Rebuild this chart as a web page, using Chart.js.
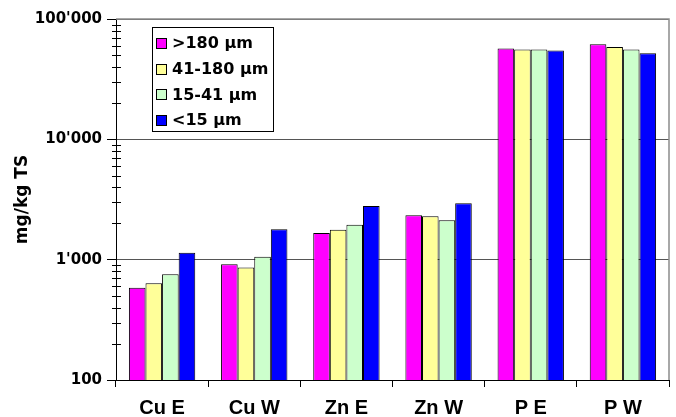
<!DOCTYPE html>
<html>
<head>
<meta charset="utf-8">
<script src="https://cdn.jsdelivr.net/npm/chart.js@4.4.1/dist/chart.umd.min.js"></script>
<style>
html,body{margin:0;padding:0;background:#fff;}
#wrap{width:676px;height:417px;}
</style>
</head>
<body>
<div id="wrap"><canvas id="c" width="676" height="417"></canvas></div>
<script>
const categories = ["Cu E", "Cu W", "Zn E", "Zn W", "P E", "P W"];
const seriesLabels = [">180 µm", "41-180 µm", "15-41 µm", "<15 µm"];
const s180 = [585, 916, 1667, 2339, 56750, 61700];
const s41_180 = [637, 859, 1776, 2296, 55700, 58600];
const s15_41 = [757, 1059, 1955, 2125, 55700, 55700];
const s15 = [1143, 1789, 2795, 2944, 54600, 52000];
const yTicks = [100, 1000, 10000, 100000];
const yTickLabels = ["100", "1'000", "10'000", "100'000"];

const colors = ["#FF00FF", "#FFFF99", "#CCFFCC", "#0000FF"];
const seriesValues = [s180, s41_180, s15_41, s15];

const frame = {
  id: 'frame',
  beforeDatasetsDraw(chart) {
    const {ctx, chartArea: a} = chart;
    ctx.save();
    ctx.strokeStyle = '#8c8c8c';
    ctx.lineWidth = 1.5;
    ctx.beginPath();
    ctx.moveTo(a.left, a.top);
    ctx.lineTo(a.right, a.top);
    ctx.lineTo(a.right, a.bottom);
    ctx.stroke();
    ctx.restore();
  },
  afterDatasetsDraw(chart) {
    const {ctx, chartArea: a} = chart;
    const y = chart.scales.y;
    ctx.save();
    ctx.strokeStyle = '#000';
    ctx.lineWidth = 1;
    for (let d = 100; d < 100000; d *= 10) {
      for (let k = 2; k <= 9; k++) {
        const py = Math.round(y.getPixelForValue(k * d)) + 0.5;
        ctx.beginPath();
        ctx.moveTo(a.left - 4, py);
        ctx.lineTo(a.left + 5, py);
        ctx.stroke();
      }
    }
    // legend
    const bx = 152, by = 27, bw = 121, bh = 104;
    ctx.fillStyle = '#fff';
    ctx.fillRect(bx, by, bw, bh);
    ctx.strokeStyle = '#000';
    ctx.strokeRect(bx + 0.5, by + 0.5, bw, bh);
    ctx.font = 'bold 16px "DejaVu Sans"';
    ctx.textBaseline = 'middle';
    chart.data.datasets.forEach((ds, i) => {
      const cy = by + 16 + i * 25.7;
      ctx.fillStyle = ds.backgroundColor;
      ctx.fillRect(156, Math.round(cy - 5), 10, 10);
      ctx.strokeStyle = '#000';
      ctx.strokeRect(156.5, Math.round(cy - 5) + 0.5, 10, 10);
      ctx.fillStyle = '#000';
      ctx.fillText(ds.label, 172, cy + 1);
    });
    ctx.restore();
  }
};

new Chart(document.getElementById('c'), {
  type: 'bar',
  data: {
    labels: categories,
    datasets: seriesLabels.map((l, i) => ({
      label: l,
      data: seriesValues[i],
      backgroundColor: colors[i],
      borderColor: '#000',
      borderWidth: 1,
      categoryPercentage: 0.72,
      barPercentage: 1.0
    }))
  },
  options: {
    responsive: false,
    animation: false,
    devicePixelRatio: 1,
    layout: {padding: {top: 19, right: 7, left: 0, bottom: 0}},
    plugins: {legend: {display: false}, tooltip: {enabled: false}},
    scales: {
      x: {
        offset: true,
        afterFit(scale) { scale.height = 37; },
        grid: {offset: true, drawOnChartArea: false, drawTicks: true, tickLength: 7, color: '#000'},
        border: {color: '#000', width: 1},
        ticks: {color: '#000', padding: 9, font: {family: '"Liberation Sans", Arial', weight: 'bold', size: 20}}
      },
      y: {
        type: 'logarithmic',
        min: 100,
        max: 100000,
        afterBuildTicks(scale) { scale.ticks = yTicks.map(v => ({value: v, major: true})); },
        afterFit(scale) { scale.width = 116; },
        grid: {color: '#555', tickColor: '#000', tickLength: 9, lineWidth: 1},
        border: {color: '#000', width: 1},
        ticks: {
          color: '#000', padding: 5,
          font: {family: '"DejaVu Sans"', weight: 'bold', size: 15},
          callback: (v) => { const i = yTicks.indexOf(v); return i >= 0 ? yTickLabels[i] : ''; }
        },
        title: {display: true, text: 'mg/kg TS', color: '#000', padding: {top: 12, bottom: 0},
          font: {family: '"DejaVu Sans"', weight: 'bold', size: 17}}
      }
    }
  },
  plugins: [frame]
});
</script>
</body>
</html>
